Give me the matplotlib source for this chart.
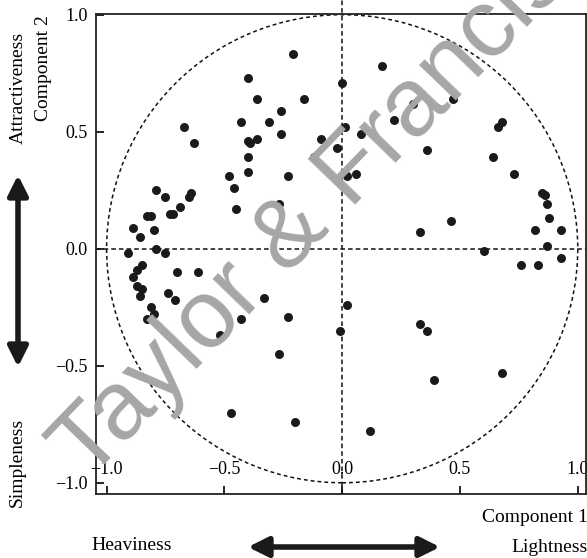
import numpy as np
import matplotlib
matplotlib.use("Agg")
import matplotlib.pyplot as plt
from matplotlib.patches import Circle, FancyArrowPatch

plt.rcParams['font.family'] = ['Liberation Serif', 'DejaVu Serif']

# component loadings
comp1 = [-0.21, -0.40, 0.00, -0.36, -0.16, -0.26, -0.67, -0.43, -0.31, -0.26,
         0.17, 0.30, 0.47, 0.22, 0.66, 0.68, 0.01, 0.08, -0.63, -0.40,
         -0.39, -0.36, -0.09, -0.02, -0.12, -0.40, -0.40, -0.48, -0.23, -0.46,
         -0.79, -0.75, -0.64, -0.65, -0.69, -0.27, -0.45, -0.83, -0.81, -0.73,
         -0.72, -0.89, -0.80, -0.86, -0.79, -0.91, -0.75, 0.36, 0.64, 0.02,
         0.06, 0.73, 0.85, 0.86, 0.87, 0.88, 0.46, 0.33, 0.82, 0.93,
         0.60, 0.87, 0.93, 0.76, 0.83, 0.02, -0.01, 0.33, 0.36, 0.68,
         0.39, 0.12, -0.85, -0.87, -0.89, -0.70, -0.61, -0.87, -0.85, -0.86,
         -0.74, -0.71, -0.33, -0.23, -0.43, -0.81, -0.80, -0.83, -0.52, -0.27,
         -0.47, -0.20]
comp2 = [0.83, 0.73, 0.71, 0.64, 0.64, 0.59, 0.52, 0.54, 0.54, 0.49,
         0.78, 0.62, 0.64, 0.55, 0.52, 0.54, 0.52, 0.49, 0.45, 0.46,
         0.45, 0.47, 0.47, 0.43, 0.39, 0.39, 0.33, 0.31, 0.31, 0.26,
         0.25, 0.22, 0.24, 0.22, 0.18, 0.19, 0.17, 0.14, 0.14, 0.15,
         0.15, 0.09, 0.08, 0.05, 0.00, -0.02, -0.02, 0.42, 0.39, 0.31,
         0.32, 0.32, 0.24, 0.23, 0.19, 0.13, 0.12, 0.07, 0.08, 0.08,
         -0.01, 0.01, -0.04, -0.07, -0.07, -0.24, -0.35, -0.32, -0.35, -0.53,
         -0.56, -0.78, -0.07, -0.09, -0.12, -0.10, -0.10, -0.16, -0.17, -0.20,
         -0.19, -0.22, -0.21, -0.29, -0.30, -0.25, -0.28, -0.30, -0.37, -0.45,
         -0.70, -0.74]

ticks = [-1.0, -0.5, 0.0, 0.5, 1.0]
tick_labels = ['\u22121.0', '\u22120.5', '0.0', '0.5', '1.0']

W, H = 587, 558
fig = plt.figure(figsize=(W / 100, H / 100), dpi=100)
ax = fig.add_axes([96 / W, 64 / H, 490 / W, 480 / H])

# watermark behind everything
fig.text(312 / W, 1 - 214 / H, 'Taylor & Francis', family='Liberation Sans',
         fontsize=70, color='#a6a6a6', rotation=46, ha='center', va='center',
         rotation_mode='anchor', zorder=0)
ax.set_facecolor('none')

# unit circle and zero lines
ax.add_patch(Circle((0, 0), 1.0, fill=False, ls=(0, (2.5, 2)), lw=1.1, color='#111111'))
ax.axhline(0, ls=(0, (3, 2)), lw=1.1, color='#111111')
ax.plot([0, 0], [-1.05, 1.065], ls=(0, (3, 2)), lw=1.1, color='#111111', clip_on=False)

ax.scatter(comp1, comp2, s=42, color='#1a1a1a', zorder=3, linewidths=0)

ax.set_xlim(-1.045, 1.035)
ax.set_ylim(-1.048, 1.003)
ax.set_xticks(ticks)
ax.set_xticklabels(tick_labels)
ax.set_yticks(ticks)
ax.set_yticklabels(tick_labels)
ax.tick_params(axis='both', direction='in', length=6, width=1.2, labelsize=13)
ax.tick_params(axis='x', pad=-24)
ax.tick_params(axis='y', pad=6)
for s in ax.spines.values():
    s.set_linewidth(1.3)
    s.set_color('#222222')

# axis annotations
fig.text(44 / W, 1 - 68 / H, 'Component 2', rotation=90, ha='center', va='center', fontsize=14)
fig.text(18 / W, 1 - 88 / H, 'Attractiveness', rotation=90, ha='center', va='center', fontsize=14)
fig.text(17 / W, 1 - 462 / H, 'Simpleness', rotation=90, ha='center', va='center', fontsize=14)
fig.text(588 / W, 1 - 518 / H, 'Component 1', ha='right', va='center', fontsize=14)
fig.text(132 / W, 1 - 546 / H, 'Heaviness', ha='center', va='center', fontsize=14)
fig.text(588 / W, 1 - 547 / H, 'Lightness', ha='right', va='center', fontsize=14)

arrow = dict(arrowstyle='<|-|>,head_length=1.0,head_width=0.5', lw=4, color='#1a1a1a',
             shrinkA=0, shrinkB=0)
fig.add_artist(FancyArrowPatch((18 / W, 1 - 175 / H), (18 / W, 1 - 367 / H),
               transform=fig.transFigure, mutation_scale=12, **arrow))
fig.add_artist(FancyArrowPatch((248 / W, 1 - 547 / H), (440 / W, 1 - 547 / H),
               transform=fig.transFigure, mutation_scale=12, **arrow))

fig.savefig('out.png', dpi=100)
